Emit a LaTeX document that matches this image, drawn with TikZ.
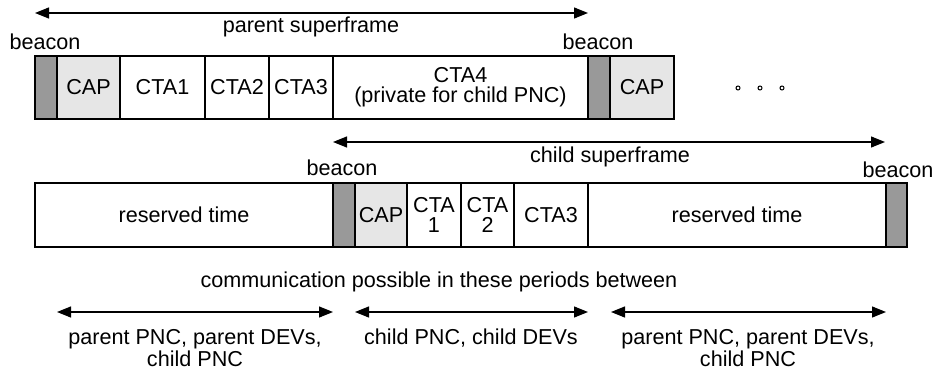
\documentclass[tikz,border=0pt]{standalone}
\usepackage{fontspec}
\setmainfont{Liberation Sans}
\usetikzlibrary{arrows.meta}
\definecolor{beaconfill}{HTML}{999999}
\definecolor{capfill}{HTML}{E6E6E6}
\begin{document}
\begin{tikzpicture}[x=1pt,y=-1pt,
  every node/.style={font=\fontsize{21.6}{20}\selectfont},
  cell/.style={draw, line width=1.3pt, inner sep=0pt, align=center},
  toprow/.style={cell, minimum height=63pt},
  botrow/.style={cell, minimum height=64pt},
  beaconcell/.style={fill=beaconfill},
  capcell/.style={fill=capfill},
  span/.style={line width=1.2pt, {Triangle[length=14pt,width=11pt]}-{Triangle[length=14pt,width=11pt]}},
  lbl/.style={align=center, inner sep=0pt},
  dot/.style={circle, draw, line width=1pt, inner sep=0pt, minimum size=4pt}]
\useasboundingbox (0,0) rectangle (934,369);
% top row: parent superframe
\node[toprow, minimum width=63pt, capcell] (cap1) at (88.5,87.5) {CAP};
\node[toprow, minimum width=85pt] (cta1) at (162.5,87.5) {CTA1};
\node[toprow, minimum width=64pt] (cta2) at (237,87.5) {CTA2};
\node[toprow, minimum width=64pt] (cta3) at (301,87.5) {CTA3};
\node[toprow, minimum width=255pt] (cta4) at (460.5,87.5) {CTA4\\(private for child PNC)};
\node[toprow, minimum width=64pt, capcell] (cap2) at (642,87.5) {CAP};
\node[toprow, minimum width=22pt, beaconcell] (b1) at (46,87.5) {};
\node[toprow, minimum width=22pt, beaconcell] (b2) at (599,87.5) {};
\node[dot] (d1) at (738,88) {};
\node[dot] (d2) at (760,88) {};
\node[dot] (d3) at (782,88) {};
% bottom row: child superframe
\node[botrow, minimum width=298pt] (res1) at (184,215) {reserved time};
\node[botrow, minimum width=52pt, capcell] (cap3) at (381,215) {CAP};
\node[botrow, minimum width=54pt] (c1) at (434,215) {CTA\\1};
\node[botrow, minimum width=53pt] (c2) at (487.5,215) {CTA\\2};
\node[botrow, minimum width=74pt] (c3) at (551,215) {CTA3};
\node[botrow, minimum width=298pt] (res2) at (737,215) {reserved time};
\node[botrow, minimum width=22pt, beaconcell] (b3) at (344,215) {};
\node[botrow, minimum width=21pt, beaconcell] (b4) at (896.5,215) {};
% labels
\node[lbl] (lb1) at (45,42) {beacon};
\node[lbl] (lb2) at (598,42) {beacon};
\node[lbl] (lb3) at (342,168) {beacon};
\node[lbl] (lb4) at (898,170) {beacon};
\node[lbl] (psf) at (311,27) {parent superframe};
\node[lbl] (csf) at (610,157) {child superframe};
\node[lbl] (comm) at (439,282) {communication possible in these periods between};
\node[lbl] (t1) at (195,348) {parent PNC, parent DEVs,\\child PNC};
\node[lbl] (t2) at (471,338) {child PNC, child DEVs};
\node[lbl] (t3) at (748,348) {parent PNC, parent DEVs,\\child PNC};
% span arrows
\coordinate (p1) at (35,13);
\coordinate (p2) at (588,13);
\coordinate (q1) at (333,142);
\coordinate (q2) at (885,142);
\coordinate (r1) at (57,312);
\coordinate (r2) at (333,312);
\coordinate (s1) at (355,312);
\coordinate (s2) at (588,312);
\coordinate (u1) at (611,312);
\coordinate (u2) at (886,312);
\draw[span] (p1) -- (p2);
\draw[span] (q1) -- (q2);
\draw[span] (r1) -- (r2);
\draw[span] (s1) -- (s2);
\draw[span] (u1) -- (u2);
\end{tikzpicture}
\end{document}
